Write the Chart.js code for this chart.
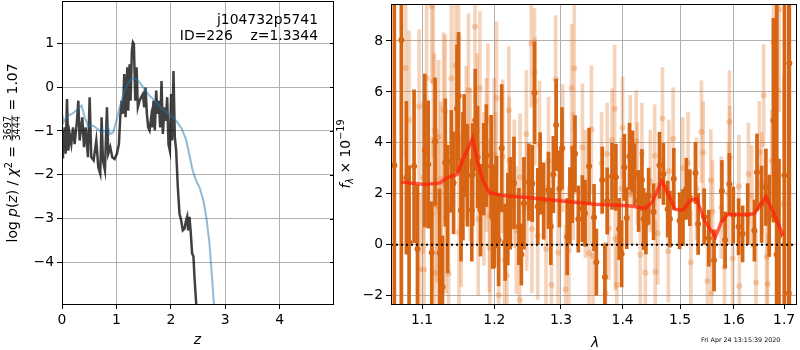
<!DOCTYPE html>
<html><head><meta charset="utf-8">
<script src="https://cdn.jsdelivr.net/npm/chart.js@4.4.0/dist/chart.umd.min.js"></script>
<style>
html,body{margin:0;padding:0;background:#fff;}
#wrap{position:relative;width:800px;height:350px;overflow:hidden;background:#fff;}
#c1{position:absolute;left:0;top:0;}
#c2{position:absolute;left:336px;top:0;}
</style></head><body>
<div id="wrap"><canvas id="c1" width="340" height="350"></canvas><canvas id="c2" width="464" height="350"></canvas></div>
<script>
// ---------------- LEFT PANEL DATA: log p(z) ----------------
const blackZ = [0.000,0.018,0.049,0.067,0.092,0.116,0.141,0.171,0.202,0.232,0.275,0.300,0.324,0.373,0.404,0.434,0.477,0.508,0.538,0.581,0.630,0.667,0.703,0.728,0.752,0.789,0.826,0.850,0.887,0.924,0.966,1.009,1.046,1.070,1.095,1.119,1.144,1.168,1.199,1.217,1.242,1.260,1.284,1.303,1.321,1.346,1.370,1.394,1.425,1.456,1.486,1.511,1.535,1.560,1.584,1.609,1.639,1.657,1.682,1.706,1.731,1.755,1.780,1.804,1.829,1.853,1.884,1.908,1.933,1.957,1.982,2.006,2.024,2.049,2.073,2.098,2.128,2.159,2.190,2.220,2.251,2.281,2.300,2.318,2.343,2.367,2.391,2.416,2.434,2.465,2.500];
const blackLogP = [-1.60,-1.30,-0.92,-1.52,-0.27,-1.45,-1.07,-1.30,-0.92,-1.30,-0.77,-0.31,-1.22,-0.69,-1.37,-0.92,-1.60,-0.23,-1.60,-1.67,-1.22,-1.83,-1.98,-0.69,-1.67,-1.90,-0.46,-1.52,-1.37,-1.60,-1.64,-1.52,-1.30,-0.69,-0.31,-0.61,0.30,-0.69,0.45,-0.54,0.52,-0.31,0.83,1.02,0.98,-0.31,0.45,-0.46,-0.31,-0.23,-0.16,-0.46,-0.01,-0.61,-0.92,-0.99,-0.69,-0.92,-0.31,-0.99,-0.08,-0.61,-0.31,-0.92,0.14,-1.07,-0.46,-0.77,-0.23,-1.30,-1.45,-0.16,-1.22,0.37,-1.14,-1.45,-2.28,-2.89,-3.04,-3.27,-3.23,-3.04,-2.96,-3.27,-2.96,-3.34,-3.80,-3.87,-4.33,-4.93,-5.60];
const blueZ = [0.00,0.03,0.07,0.12,0.22,0.30,0.36,0.42,0.48,0.57,0.66,0.72,0.80,0.84,0.88,0.94,1.00,1.06,1.15,1.24,1.30,1.37,1.43,1.52,1.61,1.70,1.80,1.90,2.00,2.10,2.20,2.28,2.35,2.40,2.47,2.53,2.60,2.65,2.71,2.76,2.80,2.83];
const blueLogP = [-0.61,-0.80,-0.70,-0.65,-0.58,-0.48,-0.42,-0.70,-0.88,-0.88,-0.96,-1.03,-0.99,-0.88,-1.07,-1.03,-0.77,-0.46,-0.08,0.14,0.20,0.18,0.10,-0.05,-0.20,-0.30,-0.45,-0.55,-0.64,-0.77,-0.95,-1.20,-1.60,-1.90,-2.15,-2.30,-2.60,-2.96,-3.57,-4.40,-5.10,-5.60];
const leftXTicks = [0,1,2,3,4];
const leftYTicks = [-4,-3,-2,-1,0,1];

// ---------------- RIGHT PANEL DATA: spectrum ----------------
const darkWave = [1.064,1.073,1.0795,1.083,1.0895,1.094,1.1037,1.1082,1.1129,1.1174,1.1233,1.1274,1.1311,1.1343,1.1394,1.1425,1.1472,1.1494,1.1527,1.1554,1.1572,1.1617,1.1678,1.1691,1.1727,1.1760,1.1801,1.1847,1.1884,1.1953,1.1975,1.1997,1.2031,1.2061,1.2106,1.2156,1.2195,1.2231,1.2285,1.2359,1.2395,1.2434,1.2508,1.2559,1.2593,1.2642,1.2678,1.2732,1.2806,1.2842,1.2881,1.2925,1.2976,1.3016,1.3097,1.3140,1.3177,1.3221,1.3274,1.3339,1.3382,1.3447,1.3527,1.3565,1.3661,1.3705,1.3742,1.3823,1.3887,1.3942,1.3984,1.4029,1.4069,1.4116,1.4168,1.4202,1.4272,1.4329,1.4358,1.4398,1.4445,1.4531,1.4635,1.4704,1.4779,1.4820,1.4889,1.4993,1.5054,1.5115,1.5178,1.5281,1.5331,1.5442,1.5529,1.5627,1.5775,1.5836,1.5918,1.5992,1.6095,1.6173,1.6272,1.6404,1.6455,1.6547,1.6632,1.6699,1.6783,1.6848,1.6896,1.7006,1.7095,1.7107];
const darkFlux = [3.12,8.04,2.63,0.10,3.08,-0.16,3.70,3.15,-0.31,4.05,-0.31,-1.65,3.23,1.40,3.27,2.43,5.34,5.84,1.36,2.69,3.90,2.73,1.36,2.76,4.89,3.44,1.36,2.97,3.50,3.08,1.07,1.10,1.68,0.19,3.79,0.10,1.01,1.63,2.43,0.72,-0.38,1.63,2.46,2.41,5.97,1.50,2.80,1.72,2.14,0.72,2.76,4.70,2.20,3.79,0.32,1.53,2.37,3.57,1.01,1.42,1.24,3.08,1.07,-0.68,2.54,-1.26,1.72,2.69,2.65,0.62,-0.35,3.04,1.05,3.47,3.27,2.76,1.72,2.54,1.01,0.84,1.91,1.30,3.12,2.78,1.40,1.01,2.59,0.94,1.07,2.20,1.85,2.82,0.82,1.10,0.26,-0.61,2.11,0.19,2.39,1.17,0.71,0.43,1.20,0.56,2.85,1.59,2.26,1.14,4.89,-0.38,0.36,2.73,-1.90,7.12];
const darkErr = [12,12,3,3,3,2.5,3,2.5,2,2.5,2.5,2,2.5,2.5,2,2,2.5,2.5,2,2.5,2,2,2,2,2,2,1.8,1.8,2,2,2,2,1.8,1.8,2.5,1.5,1.8,1.8,1.8,1.5,1.2,1.8,1.5,1.5,2,1.5,1.6,1.5,1.5,1.5,1.5,1.8,1.5,1.6,1.5,1.5,1.5,1.5,1.3,1.3,1.3,1.5,1.3,1.3,1.3,1.3,1.3,1.3,1.3,1.2,1.3,1.3,1.2,1.3,1.2,1.2,1.2,1.2,1.2,1.2,1.1,1.1,1.3,1.2,1.1,1.1,1.2,1.1,1.1,1.2,1.1,1.2,1.2,1.1,1.1,1.2,1.2,1.1,1.2,1.1,1.1,1.1,1.2,1.2,1.5,1.5,1.5,1.6,4,12,3,15,15,15];
const lightWave = [1.0786,1.0829,1.0961,1.0970,1.1014,1.1027,1.1060,1.1129,1.1135,1.1151,1.1165,1.1170,1.1198,1.1220,1.1250,1.1257,1.1288,1.1311,1.1318,1.1357,1.1394,1.1449,1.1494,1.1500,1.1531,1.1600,1.1631,1.1655,1.1723,1.1755,1.1768,1.1792,1.1850,1.1884,1.1906,1.1929,1.1935,1.1997,1.2012,1.2031,1.2061,1.2121,1.2146,1.2180,1.2210,1.2216,1.2290,1.2320,1.2370,1.2376,1.2470,1.2476,1.2544,1.2553,1.2593,1.2598,1.2642,1.2668,1.2768,1.2806,1.2851,1.2917,1.2955,1.3028,1.3071,1.3124,1.3167,1.3192,1.3209,1.3339,1.3387,1.3447,1.3484,1.3511,1.3650,1.3716,1.3742,1.3769,1.3823,1.3866,1.3877,1.3903,1.3980,1.4000,1.4128,1.4145,1.4231,1.4250,1.4301,1.4329,1.4388,1.4474,1.4550,1.4561,1.4606,1.4687,1.4791,1.4800,1.4877,1.5050,1.5146,1.5196,1.5300,1.5392,1.5424,1.5503,1.5566,1.5577,1.5600,1.5762,1.5825,1.5900,1.5918,1.5925,1.5979,1.6100,1.6109,1.6286,1.6350,1.6436,1.6502,1.6550,1.6587,1.6646,1.6666,1.6750,1.6783,1.6862,1.6896,1.6994];
const lightFlux = [6.94,4.89,5.44,-0.97,2.65,-0.97,6.54,9.36,1.23,6.41,4.50,-1.10,1.53,4.24,2.60,-0.64,5.32,5.24,1.10,-1.13,6.54,7.03,8.09,0.49,1.36,4.00,6.06,3.15,8.56,4.50,1.01,6.15,2.20,3.53,4.89,1.14,-0.12,3.53,2.20,5.76,-1.97,3.47,-0.61,-1.19,5.28,3.30,2.40,0.58,-2.16,2.65,4.35,1.50,7.90,0.62,6.77,5.63,0.36,3.92,-0.16,3.30,-1.58,6.49,-0.31,3.79,-1.75,-0.22,6.15,2.70,6.92,3.82,2.00,-0.33,4.53,-0.45,3.20,-1.90,3.56,0.64,4.12,5.34,0.23,-1.58,2.20,4.59,3.86,2.02,4.05,2.80,-0.39,3.56,-1.10,2.50,3.50,-1.06,0.45,4.96,-0.25,2.90,4.16,3.00,3.21,-0.68,2.20,4.44,3.62,-1.43,2.52,-1.90,1.30,1.46,-0.87,2.00,4.83,3.43,-0.54,2.30,-1.62,2.78,1.90,-1.48,3.63,2.40,5.86,-0.48,-1.55,3.30,7.96,6.06,9.23,1.59];
const lightErr = [3.5,3.5,3,3,3,3,3,3,3,3,3,3,3,3,3,3,3,3,3,3,3,3,3,3,3,3,3,3,3,3,3,3,3,3,3,3,3,3,3,3,2.5,3,2.5,2.5,2.5,2.5,2.5,2.5,2.5,2.5,2.5,2.5,2.5,2.5,2.5,2.5,2.5,2.5,2.5,2.5,2.5,2.5,2.5,2.5,2.5,2.5,2.5,2.5,2.5,2.5,2.5,2.5,2.5,2,2,2,2,2,2,2.5,2,2,2,2,2,2,2,2,2,2,2,2,2,2,2,2,2,2,2,2,2,2,2,2,2,2,2,2,2,2,2,2,2,2,2,2,2,2,2,2,2,2,2,2.5,2,2,2.5,4,4,5,3];
const modelWave = [1.0730,1.1037,1.1243,1.1335,1.1472,1.1563,1.1691,1.1746,1.1837,1.1929,1.2121,1.2519,1.3016,1.3554,1.4099,1.4387,1.4502,1.4675,1.4791,1.4907,1.5054,1.5178,1.5300,1.5455,1.5651,1.5762,1.5886,1.6272,1.6404,1.6534,1.6632,1.6798,1.6981];
const modelFlux = [2.46,2.37,2.43,2.63,2.76,3.40,4.18,3.40,2.50,2.04,1.94,1.85,1.72,1.59,1.53,1.44,1.65,2.50,1.98,1.40,1.36,1.72,1.81,0.94,0.30,0.88,1.20,1.18,1.23,1.59,1.89,1.20,0.36];
const zeroWave = [1.0597,1.7245];
const zeroFlux = [0,0];
const rightXTicks = [1.1,1.2,1.3,1.4,1.5,1.6,1.7];
const rightYTicks = [-2,0,2,4,6,8];

// ---------------- helpers ----------------
const FAM = '"DejaVu Sans"';
const FS = 13.9;
function fnt(size, italic){ return (italic?'italic ':'') + size + 'px ' + FAM; }
function minus(v){ return String(v).replace('-', '\u2212'); }
function drawRich(ctx, pieces, x, y, angle){
  ctx.save();
  ctx.translate(x, y);
  ctx.rotate(angle);
  const widths = pieces.map(p => {
    if (p.num !== undefined){ ctx.font = fnt(p.size,false); return Math.max(ctx.measureText(p.num).width, ctx.measureText(p.den).width) + 2; }
    ctx.font = fnt(p.size, p.italic); return ctx.measureText(p.t).width;
  });
  const total = widths.reduce((a,b)=>a+b,0);
  let cx = -total/2;
  ctx.fillStyle = '#000'; ctx.textBaseline = 'alphabetic';
  pieces.forEach((p,i)=>{
    const w = widths[i];
    if (p.num !== undefined){
      ctx.font = fnt(p.size,false); ctx.textAlign='center';
      ctx.fillText(p.num, cx + w/2, -p.numUp);
      ctx.fillText(p.den, cx + w/2, p.denDown);
      ctx.fillRect(cx + 0.5, -p.bar - 0.4, w - 1, 0.8);
      ctx.textAlign='left';
    } else {
      ctx.font = fnt(p.size, p.italic); ctx.textAlign='left';
      ctx.fillText(p.t, cx, -(p.dy||0));
    }
    cx += w;
  });
  ctx.restore();
}
function axisCommon(ticksArr, isX, fit){
  return {
    afterBuildTicks: s => { s.ticks = ticksArr.map(v => ({value: v})); },
    afterFit: fit,
    grid: {color:'#b0b0b0', lineWidth:1, tickLength:5, tickColor:'#000', tickWidth:1},
    border: {display:false},
    ticks: {color:'#000', font:{family:'DejaVu Sans', size:FS}, padding: 3, autoSkip:false, maxRotation:0, minRotation:0}
  };
}
function framePlugin(extra){
  return {
    id:'frame'+Math.round(Math.random()*1e6),
    afterDraw(chart){
      const {ctx, chartArea:{left,top,right,bottom}} = chart;
      ctx.save();
      ctx.strokeStyle = '#000'; ctx.lineWidth = 1;
      ctx.strokeRect(left + 0.5, top + 0.5, right - left, bottom - top);
      ctx.restore();
      extra(chart);
    }
  };
}

// ---------------- LEFT CHART ----------------
const xL = Object.assign({type:'linear', min:0, max:4.98}, axisCommon(leftXTicks, true, s => { s.height = 46; s.paddingLeft = 0; s.paddingRight = 0; }));
xL.ticks.callback = v => minus(v);
const yL = Object.assign({type:'linear', min:-4.952, max:1.966}, axisCommon(leftYTicks, false, s => { s.width = 62; s.paddingTop = 0; s.paddingBottom = 0; }));
yL.ticks.callback = v => minus(v);

new Chart(document.getElementById('c1'), {
  type:'scatter',
  data:{datasets:[
    {type:'line', data: blueZ.map((z,i)=>({x:z, y:blueLogP[i]})), borderColor:'rgba(31,119,180,0.5)', borderWidth:2, pointRadius:0, tension:0, fill:false},
    {type:'line', data: blackZ.map((z,i)=>({x:z, y:blackLogP[i]})), borderColor:'rgba(0,0,0,0.75)', borderWidth:2.5, pointRadius:0, tension:0, fill:false}
  ]},
  options:{
    responsive:false, animation:false, events:[],
    layout:{padding:{top:1, right:7, left:0, bottom:0}},
    plugins:{legend:{display:false}, tooltip:{enabled:false}},
    scales:{x:xL, y:yL}
  },
  plugins:[framePlugin(chart => {
    const {ctx, chartArea:{right}, scales:{y}} = chart;
    ctx.save();
    ctx.strokeStyle='#000'; ctx.lineWidth=1;
    leftYTicks.forEach(v => { const py = Math.round(y.getPixelForValue(v)) + 0.5; ctx.beginPath(); ctx.moveTo(right-3, py); ctx.lineTo(right+0.5, py); ctx.stroke(); });
    ctx.fillStyle='#000'; ctx.font = fnt(FS,false); ctx.textAlign='right'; ctx.textBaseline='alphabetic';
    ctx.fillText('j104732p5741', 318, 24);
    ctx.fillText('ID=226    z=1.3344', 318, 39.5);
    ctx.restore();
    drawRich(ctx, [{t:'z', size:FS, italic:true}], 197.5, 343.5, 0);
    const fs2 = 9.7;
    drawRich(ctx, [
      {t:'log ', size:FS}, {t:'p', size:FS, italic:true}, {t:'(', size:FS}, {t:'z', size:FS, italic:true}, {t:') / ', size:FS},
      {t:'\u03c7', size:FS, italic:true}, {t:'2', size:fs2, dy:5.5}, {t:' = ', size:FS},
      {num:'3697', den:'3444', size:fs2, numUp:6.5, denDown:2.5, bar:5}, {t:' = 1.07', size:FS}
    ], 17, 153, -Math.PI/2);
  })]
});

// ---------------- RIGHT CHART ----------------
const DARK = 'rgb(214,101,20)';
const LIGHT = 'rgba(224,112,30,0.30)';
const xR = Object.assign({type:'logarithmic', min:1.0597, max:1.7245, offset:false}, axisCommon(rightXTicks, true, s => { s.height = 46; s.paddingLeft = 0; s.paddingRight = 0; }));
xR.ticks.callback = v => Number(v).toFixed(1);
xR.grid.offset = false;
const yR = Object.assign({type:'linear', min:-2.322, max:9.449}, axisCommon(rightYTicks, false, s => { s.width = 55; s.paddingTop = 0; s.paddingBottom = 0; }));
yR.ticks.callback = v => minus(v);

new Chart(document.getElementById('c2'), {
  type:'scatter',
  data:{datasets:[
    {type:'line', data: zeroWave.map((w,i)=>({x:w, y:zeroFlux[i]})), borderColor:'#000', borderWidth:2, borderDash:[2,3], pointRadius:0, fill:false},
    {type:'line', data: modelWave.map((w,i)=>({x:w, y:modelFlux[i]})), borderColor:'rgba(255,30,10,0.72)', borderWidth:3.5, pointRadius:0, tension:0, fill:false},
    {type:'scatter', data: darkWave.map((w,i)=>({x:w, y:darkFlux[i]})), backgroundColor:DARK, borderWidth:0, pointRadius:3},
    {type:'bar', data: darkWave.map((w,i)=>({x:w, y:[darkFlux[i]-darkErr[i], darkFlux[i]+darkErr[i]]})), backgroundColor:DARK, borderWidth:0, barThickness:3, grouped:false, borderSkipped:false},
    {type:'scatter', data: lightWave.map((w,i)=>({x:w, y:lightFlux[i]})), backgroundColor:LIGHT, borderWidth:0, pointRadius:3},
    {type:'bar', data: lightWave.map((w,i)=>({x:w, y:[lightFlux[i]-lightErr[i], lightFlux[i]+lightErr[i]]})), backgroundColor:LIGHT, borderWidth:0, barThickness:3, grouped:false, borderSkipped:false}
  ]},
  options:{
    responsive:false, animation:false, events:[],
    layout:{padding:{top:1, right:1, left:0, bottom:0}},
    plugins:{legend:{display:false}, tooltip:{enabled:false}},
    scales:{x:xR, y:yR}
  },
  plugins:[framePlugin(chart => {
    const {ctx} = chart;
    drawRich(ctx, [{t:'\u03bb', size:FS, italic:true}], 595 - 336, 346.5, 0);
    const fs2 = 9.7;
    drawRich(ctx, [
      {t:'f', size:FS, italic:true}, {t:'\u03bb', size:fs2, italic:true, dy:-2.5}, {t:' \u00d7 10', size:FS}, {t:'\u221219', size:fs2, dy:6}
    ], 350 - 336, 154, -Math.PI/2);
    ctx.save();
    ctx.fillStyle='#000'; ctx.font = fnt(6.35,false); ctx.textAlign='left'; ctx.textBaseline='alphabetic';
    ctx.fillText('Fri Apr 24 13:15:39 2020', 701 - 336, 341.7);
    ctx.restore();
  })]
});
</script>
</body></html>
